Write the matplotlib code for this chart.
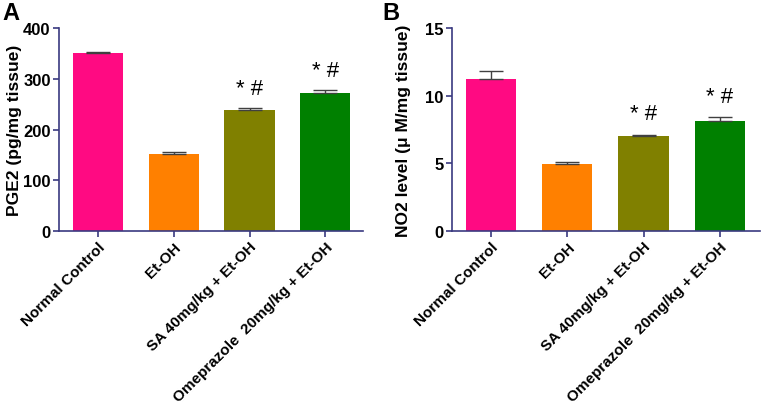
import matplotlib
matplotlib.use("Agg")
import matplotlib.pyplot as plt
import numpy as np

plt.rcParams['font.family'] = ['Liberation Sans', 'DejaVu Sans']

groups = ["Normal Control", "Et-OH", "SA 40mg/kg + Et-OH", "Omeprazole  20mg/kg + Et-OH"]
colors = ["#ff0a82", "#ff8000", "#808000", "#008000"]

pge2 = [350, 152, 239, 273]
pge2_err = [2, 4, 3, 5]
no2 = [11.25, 4.95, 7.0, 8.1]
no2_err = [0.6, 0.15, 0.13, 0.3]
marks = ["", "", "* #", "* #"]

AX_COL = "#3a3a80"

fig = plt.figure(figsize=(7.61, 4.10), dpi=100)
axA = fig.add_axes([0.0775, 0.434, 0.400, 0.495])
axB = fig.add_axes([0.594, 0.434, 0.405, 0.495])

def panel(ax, vals, errs, ylim, yticks, ylabel, xlim, off, lpad):
    x = np.arange(len(vals))
    ax.bar(x, vals, width=0.66, color=colors, zorder=2)
    ax.errorbar(x, vals, yerr=[np.zeros(len(errs)), errs], fmt="none",
                ecolor="#404040", elinewidth=1.0, capsize=8.5, capthick=1.0, zorder=3)
    for xi, v, e, m in zip(x, vals, errs, marks):
        if m:
            ax.text(xi, v + e + off, m, ha="center", va="bottom", fontsize=16)
    ax.set_ylim(*ylim)
    ax.set_yticks(yticks)
    ax.set_xlim(*xlim)
    ax.set_xticks(x)
    ax.set_xticklabels(groups, rotation=45, ha="right", rotation_mode="anchor",
                       fontsize=11, fontweight="bold")
    for t in ax.get_yticklabels():
        t.set_fontweight("bold")
        t.set_fontsize(12)
    ax.set_ylabel(ylabel, fontsize=12.5, fontweight="bold", labelpad=lpad)
    for s in ["top", "right"]:
        ax.spines[s].set_visible(False)
    for s in ["left", "bottom"]:
        ax.spines[s].set_color(AX_COL)
        ax.spines[s].set_linewidth(1.2)
    ax.tick_params(axis="both", colors=AX_COL, labelcolor="black", width=1.2, length=4.5,
                   pad=1.5)

panel(axA, pge2, pge2_err, (0, 400), [0, 100, 200, 300, 400],
      "PGE2 (pg/mg tissue)", (-0.51, 3.5), 18, 1)
panel(axB, no2, no2_err, (0, 15), [0, 5, 10, 15],
      "NO2 level (\u03bc M/mg tissue)", (-0.51, 3.53), 0.8, 10)

fig.text(0.003, 0.995, "A", fontsize=17, fontweight="bold", va="top", ha="left")
fig.text(0.503, 0.995, "B", fontsize=17, fontweight="bold", va="top", ha="left")

fig.savefig("out.png", dpi=100)
